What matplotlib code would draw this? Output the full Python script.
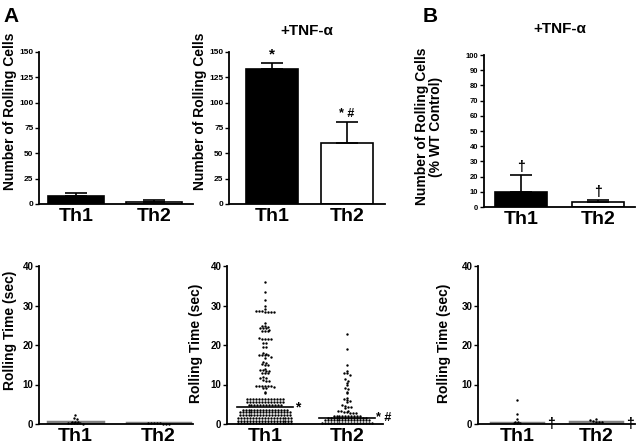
import numpy as np
import matplotlib.pyplot as plt

plt.rcParams['font.family'] = ['Liberation Sans', 'DejaVu Sans']
plt.rcParams['font.weight'] = 'bold'
plt.rcParams['axes.labelweight'] = 'bold'
plt.rcParams['axes.titleweight'] = 'bold'

groups = ['Th1', 'Th2']

# top row: number of rolling cells, mean and upper error
ctrl_cells = [8, 2]
ctrl_cells_err = [2.5, 1.5]
tnf_cells = [133, 60]
tnf_cells_err = [6, 21]
ko_pct = [10, 3]
ko_pct_err = [11, 1.5]

# bottom row: rolling time of single cells (sec)
ctrl_th1_t = [2.3, 1.5, 1.2, 0.5, 0.4, 0.4, 0.3, 0.3, 0.2, 0.2, 0.2, 0.1]
ctrl_th2_t = [0.3, 0.3, 0.2, 0.2, 0.2, 0.1, 0.1, 0.1]
tnf_th1_t = ([35.9, 33.3, 31.4, 29.9, 29.2, 28.7, 28.5, 28.5, 28.3, 28.3, 28.3, 28.3,
              25.6, 24.9, 24.7, 24.5, 24.3, 24.3, 24.3, 23.8, 23.6, 23.6, 23.6,
              21.8, 21.5, 21.5, 21.5, 21.5, 20.6, 20.6, 19.6, 19.6,
              17.9, 17.7, 17.5, 17.5, 17.5, 17.5, 16.9, 16.8,
              15.6, 15.4, 15.3, 15.0, 15.0,
              13.9, 13.7, 13.7, 13.5, 13.5, 13.0, 13.0, 12.9,
              11.8, 11.7, 11.6, 11.2, 11.0, 10.9,
              9.7, 9.6, 9.5, 9.5, 9.5, 9.5, 9.4, 9.0, 9.0, 8.0, 7.8]
             + [6.3] * 13 + [5.5] * 13 + [4.7] * 12 + [3.6] * 16 + [3.0] * 18
             + [2.2] * 18 + [1.5] * 19 + [0.8] * 19 + [0.2] * 19)
tnf_th2_t = ([22.8, 19.0, 14.9, 13.5, 13.0, 12.8, 12.4, 11.4, 10.9, 10.3, 9.9,
              9.2, 8.8, 8.2, 7.8, 6.6, 6.3, 6.0, 5.7, 5.5, 4.7, 4.5, 4.3, 4.2, 4.0,
              3.4, 3.3, 3.2, 3.1, 3.0, 2.9, 2.9, 2.8]
             + [2.1] * 10 + [1.5] * 14 + [0.9] * 16 + [0.3] * 18)
ko_th1_t = [6.0, 2.5, 1.3, 0.5, 0.4, 0.3, 0.3, 0.2]
ko_th2_t = [1.2, 0.9, 0.7, 0.5, 0.5, 0.4]

# median lines
ctrl_lines = [0.6, 0.2]
tnf_lines = [4.2, 1.5]
ko_lines = [0.3, 0.6]

W, H = 640, 448
fig = plt.figure(figsize=(W / 100, H / 100), dpi=100)


def add_ax(left, right, top, bottom):
    return fig.add_axes([left / W, 1 - bottom / H, (right - left) / W, (bottom - top) / H])


def style(ax, ticks, tsize=6):
    for s in ['top', 'right']:
        ax.spines[s].set_visible(False)
    for s in ['left', 'bottom']:
        ax.spines[s].set_linewidth(1.3)
    ax.set_yticks(ticks)
    ax.set_ylim(ticks[0], ticks[-1])
    ax.tick_params(axis='y', length=3, width=1, labelsize=tsize, pad=1)
    ax.tick_params(axis='x', length=0, labelsize=14, pad=3)
    ax.set_xticks([0, 1])
    ax.set_xticklabels(groups)


def bars(ax, vals, errs, width):
    ax.bar([0, 1], vals, width=width, color=['black', 'white'], edgecolor='black',
           linewidth=1.2)
    ax.errorbar([0, 1], vals, yerr=[[0, 0], errs], fmt='none', ecolor='black',
                elinewidth=1.2, capsize=8, capthick=1.2)


def swarm(ax, xc, vals, row_h=0.75, dx=0.036):
    vals = np.asarray(vals)
    rows = np.round(vals / row_h).astype(int)
    xs, ys = [], []
    for r in np.unique(rows):
        v = vals[rows == r]
        n = len(v)
        off = (np.arange(n) - (n - 1) / 2) * dx
        xs.extend(xc + off)
        ys.extend(v)
    ax.scatter(xs, ys, s=3, color='black', linewidths=0, clip_on=False, zorder=3)


# ---- A, top left: untreated
ax1 = add_ax(39, 193, 52, 204)
bars(ax1, ctrl_cells, ctrl_cells_err, 0.72)
style(ax1, [0, 25, 50, 75, 100, 125, 150])
ax1.set_xlim(-0.48, 1.5)
ax1.set_ylabel('Number of Rolling Cells', fontsize=10)
ax1.yaxis.set_label_coords(-0.14, 0.61)

# ---- A, top middle: +TNF-a
ax2 = add_ax(229, 385, 52, 204)
bars(ax2, tnf_cells, tnf_cells_err, 0.69)
style(ax2, [0, 25, 50, 75, 100, 125, 150])
ax2.set_xlim(-0.57, 1.51)
ax2.set_ylabel('Number of Rolling Cells', fontsize=10)
ax2.yaxis.set_label_coords(-0.14, 0.61)
ax2.set_title('+TNF-\u03b1', fontsize=11, pad=12)
ax2.text(0, tnf_cells[0] + tnf_cells_err[0] + 2, '*', ha='center', va='bottom',
         fontsize=11)
ax2.text(1, tnf_cells[1] + tnf_cells_err[1] + 2, '* #', ha='center', va='bottom',
         fontsize=9)

# ---- B, top right: % of WT control
ax3 = add_ax(484, 635, 55, 207)
bars(ax3, ko_pct, ko_pct_err, 0.675)
style(ax3, list(range(0, 101, 10)), tsize=5.5)
ax3.set_xlim(-0.48, 1.48)
ax3.set_ylabel('Number of Rolling Cells\n(% WT Control)', fontsize=10,
               linespacing=1.0)
ax3.yaxis.set_label_coords(-0.27, 0.53)
ax3.set_title('+TNF-\u03b1', fontsize=11, pad=16)
for i in range(2):
    ax3.text(i, ko_pct[i] + ko_pct_err[i] + 1, '\u2020', ha='center', va='bottom',
             fontsize=10)

# ---- A, bottom left: rolling time untreated
ax4 = add_ax(39, 193, 266, 424)
style(ax4, [0, 10, 20, 30, 40], tsize=7)
ax4.set_xlim(-0.44, 1.42)
swarm(ax4, 0, ctrl_th1_t)
swarm(ax4, 1, ctrl_th2_t)
for i, hw in enumerate([0.33, 0.38]):
    ax4.plot([i - hw, i + hw], [ctrl_lines[i]] * 2, color='0.5', lw=2.5, zorder=2)
ax4.set_ylabel('Rolling Time (sec)', fontsize=10)
ax4.yaxis.set_label_coords(-0.14, 0.59)

# ---- A, bottom middle: rolling time +TNF-a
ax5 = add_ax(227, 383, 266, 424)
style(ax5, [0, 10, 20, 30, 40], tsize=7)
ax5.set_xlim(-0.46, 1.44)
swarm(ax5, 0, tnf_th1_t)
swarm(ax5, 1, tnf_th2_t)
for i in range(2):
    ax5.plot([i - 0.34, i + 0.34], [tnf_lines[i]] * 2, color='black', lw=1.2,
             zorder=4)
ax5.text(0.37, tnf_lines[0], '*', ha='left', va='center', fontsize=10)
ax5.text(1.35, tnf_lines[1], '* #', ha='left', va='center', fontsize=9)
ax5.set_ylabel('Rolling Time (sec)', fontsize=10)
ax5.yaxis.set_label_coords(-0.155, 0.51)

# ---- B, bottom right: rolling time knockout
ax6 = add_ax(478, 635, 266, 424)
style(ax6, [0, 10, 20, 30, 40], tsize=7)
ax6.set_xlim(-0.49, 1.49)
swarm(ax6, 0, ko_th1_t)
swarm(ax6, 1, ko_th2_t)
for i in range(2):
    ax6.plot([i - 0.33, i + 0.33], [ko_lines[i]] * 2, color='0.5', lw=2.5, zorder=2)
    ax6.text(i + 0.43, 0, '\u2020', ha='center', va='center', fontsize=10)
ax6.set_ylabel('Rolling Time (sec)', fontsize=10)
ax6.yaxis.set_label_coords(-0.17, 0.51)

fig.text(3 / W, 1 - 7 / H, 'A', fontsize=15, va='top', ha='left')
fig.text(423 / W, 1 - 7 / H, 'B', fontsize=15, va='top', ha='left')

fig.savefig('out.png', dpi=100)
